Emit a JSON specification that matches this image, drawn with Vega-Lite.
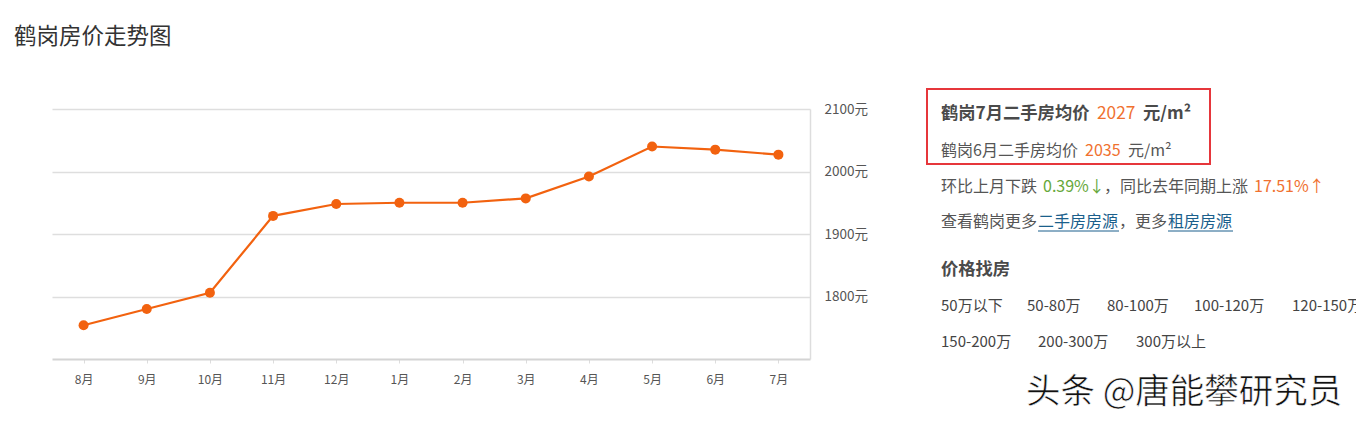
{
  "$schema": "https://vega.github.io/schema/vega-lite/v6.json",
  "background": "white",
  "padding": {"top": 25, "left": 14, "right": 0, "bottom": 0},
  "title": {"text": "鹤岗房价走势图", "anchor": "start", "fontSize": 22.5, "fontWeight": "normal", "color": "#333333", "font": "Noto Sans CJK SC", "offset": 40, "dx": -38},
  "config": {"font": "Noto Sans CJK SC", "view": {"stroke": null}},
  "spacing": 58,
  "datasets": {
    "prices": [
      {"month": "8月", "price": 1754},
      {"month": "9月", "price": 1780},
      {"month": "10月", "price": 1806},
      {"month": "11月", "price": 1929},
      {"month": "12月", "price": 1948},
      {"month": "1月", "price": 1950},
      {"month": "2月", "price": 1950},
      {"month": "3月", "price": 1957},
      {"month": "4月", "price": 1992},
      {"month": "5月", "price": 2040},
      {"month": "6月", "price": 2035},
      {"month": "7月", "price": 2027}
    ],
    "panel": [
      {"k": "head", "t": "鹤岗7月二手房均价", "x": 14, "y": 5},
      {"k": "headval", "t": "2027", "x": 170, "y": 5},
      {"k": "head", "t": "元/m²", "x": 216, "y": 5},
      {"k": "text", "t": "鹤岗6月二手房均价", "x": 14, "y": 42},
      {"k": "orange", "t": "2035", "x": 158, "y": 42},
      {"k": "text", "t": "元/m²", "x": 201, "y": 42},
      {"k": "text", "t": "环比上月下跌", "x": 14, "y": 78},
      {"k": "green", "t": "0.39%↓", "x": 116, "y": 78},
      {"k": "text", "t": "，同比去年同期上涨", "x": 177, "y": 78},
      {"k": "orange", "t": "17.51%↑", "x": 327, "y": 78},
      {"k": "text", "t": "查看鹤岗更多", "x": 14, "y": 113},
      {"k": "link", "t": "二手房房源", "x": 111, "x2": 192, "y": 113},
      {"k": "text", "t": "，更多", "x": 192, "y": 113},
      {"k": "link", "t": "租房房源", "x": 241, "x2": 306, "y": 113},
      {"k": "sub", "t": "价格找房", "x": 14, "y": 161},
      {"k": "range", "t": "50万以下", "x": 14, "y": 197},
      {"k": "range", "t": "50-80万", "x": 100, "y": 197},
      {"k": "range", "t": "80-100万", "x": 180, "y": 197},
      {"k": "range", "t": "100-120万", "x": 267, "y": 197},
      {"k": "range", "t": "120-150万", "x": 365, "y": 197},
      {"k": "range", "t": "150-200万", "x": 14, "y": 233},
      {"k": "range", "t": "200-300万", "x": 111, "y": 233},
      {"k": "range", "t": "300万以上", "x": 209, "y": 233},
      {"k": "mark", "t": "头条 @唐能攀研究员", "x": 99, "y": 284}
    ],
    "box": [{"x": 0, "x2": 283, "y": -20, "y2": 55}]
  },
  "hconcat": [
    {
      "width": 758,
      "height": 250,
      "data": {"name": "prices"},
      "encoding": {
        "x": {
          "field": "month", "type": "ordinal", "sort": null,
          "scale": {"type": "point", "padding": 0.5},
          "axis": {"title": null, "labelAngle": 0, "labelFontSize": 12, "labelColor": "#555555", "labelPadding": 11, "domainColor": "#d4d4d4", "domainWidth": 2, "tickColor": "#dddddd", "tickSize": 4, "grid": false}
        },
        "y": {
          "field": "price", "type": "quantitative",
          "scale": {"domain": [1700, 2100], "nice": false, "zero": false},
          "axis": {"orient": "right", "title": null, "values": [1800, 1900, 2000, 2100], "labelExpr": "datum.value + '元'", "labelFontSize": 13.5, "labelColor": "#555555", "labelPadding": 14, "ticks": false, "domainColor": "#dddddd", "domainWidth": 1.5, "grid": true, "gridColor": "#dedede", "gridWidth": 1.5}
        }
      },
      "layer": [
        {"mark": {"type": "line", "color": "#f2620f", "strokeWidth": 2.2}},
        {"mark": {"type": "point", "filled": true, "color": "#f2620f", "size": 100, "opacity": 1}}
      ]
    },
    {
      "width": 429,
      "height": 250,
      "layer": [
        {
          "data": {"name": "box"},
          "mark": {"type": "rect", "fill": null, "stroke": "#e6363b", "strokeWidth": 2},
          "encoding": {
            "x": {"field": "x", "type": "quantitative", "scale": {"domain": [0, 429], "nice": false, "zero": false}, "axis": null},
            "x2": {"field": "x2"},
            "y": {"field": "y", "type": "quantitative", "scale": {"domain": [0, 250], "nice": false, "zero": false, "reverse": true}, "axis": null},
            "y2": {"field": "y2"}
          }
        },
        {
          "data": {"name": "panel"},
          "transform": [{"filter": "datum.k === 'link'"}],
          "mark": {"type": "rule", "color": "#1b5f8c", "strokeWidth": 1, "yOffset": 9},
          "encoding": {
            "x": {"field": "x", "type": "quantitative"},
            "x2": {"field": "x2"},
            "y": {"field": "y", "type": "quantitative"}
          }
        },
        {
          "data": {"name": "panel"},
          "transform": [{"filter": "datum.k === 'head' || datum.k === 'sub'"}],
          "mark": {"type": "text", "align": "left", "baseline": "middle", "fontSize": 17.3, "fontWeight": "bold", "color": "#4a4a4a"},
          "encoding": {"x": {"field": "x", "type": "quantitative"}, "y": {"field": "y", "type": "quantitative"}, "text": {"field": "t"}}
        },
        {
          "data": {"name": "panel"},
          "transform": [{"filter": "datum.k === 'headval'"}],
          "mark": {"type": "text", "align": "left", "baseline": "middle", "fontSize": 17.3, "color": "#f0712f"},
          "encoding": {"x": {"field": "x", "type": "quantitative"}, "y": {"field": "y", "type": "quantitative"}, "text": {"field": "t"}}
        },
        {
          "data": {"name": "panel"},
          "transform": [{"filter": "datum.k === 'text'"}],
          "mark": {"type": "text", "align": "left", "baseline": "middle", "fontSize": 16, "color": "#555555"},
          "encoding": {"x": {"field": "x", "type": "quantitative"}, "y": {"field": "y", "type": "quantitative"}, "text": {"field": "t"}}
        },
        {
          "data": {"name": "panel"},
          "transform": [{"filter": "datum.k === 'orange'"}],
          "mark": {"type": "text", "align": "left", "baseline": "middle", "fontSize": 16, "color": "#f0712f"},
          "encoding": {"x": {"field": "x", "type": "quantitative"}, "y": {"field": "y", "type": "quantitative"}, "text": {"field": "t"}}
        },
        {
          "data": {"name": "panel"},
          "transform": [{"filter": "datum.k === 'green'"}],
          "mark": {"type": "text", "align": "left", "baseline": "middle", "fontSize": 16, "color": "#66a83a"},
          "encoding": {"x": {"field": "x", "type": "quantitative"}, "y": {"field": "y", "type": "quantitative"}, "text": {"field": "t"}}
        },
        {
          "data": {"name": "panel"},
          "transform": [{"filter": "datum.k === 'link'"}],
          "mark": {"type": "text", "align": "left", "baseline": "middle", "fontSize": 16, "color": "#1b5f8c"},
          "encoding": {"x": {"field": "x", "type": "quantitative"}, "y": {"field": "y", "type": "quantitative"}, "text": {"field": "t"}}
        },
        {
          "data": {"name": "panel"},
          "transform": [{"filter": "datum.k === 'range'"}],
          "mark": {"type": "text", "align": "left", "baseline": "middle", "fontSize": 15, "color": "#444444"},
          "encoding": {"x": {"field": "x", "type": "quantitative"}, "y": {"field": "y", "type": "quantitative"}, "text": {"field": "t"}}
        },
        {
          "data": {"name": "panel"},
          "transform": [{"filter": "datum.k === 'mark'"}],
          "mark": {"type": "text", "align": "left", "baseline": "middle", "fontSize": 34.5, "color": "#111111", "stroke": "#ffffff", "strokeWidth": 0.6},
          "encoding": {"x": {"field": "x", "type": "quantitative"}, "y": {"field": "y", "type": "quantitative"}, "text": {"field": "t"}}
        }
      ]
    }
  ]
}
